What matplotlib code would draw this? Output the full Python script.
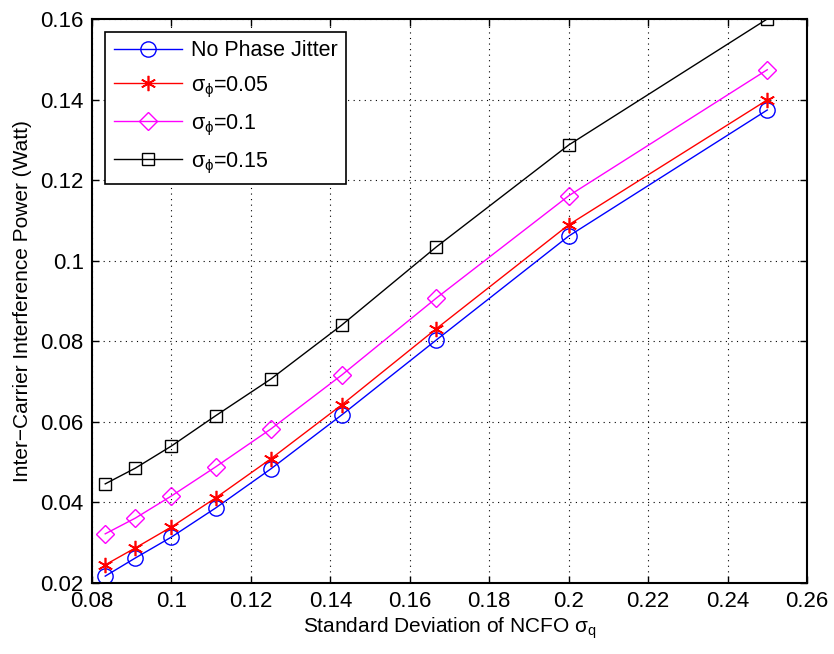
import matplotlib
matplotlib.use("Agg")
import matplotlib.pyplot as plt

plt.rcParams['font.family'] = ['Liberation Sans', 'DejaVu Sans']
plt.rcParams['mathtext.fontset'] = 'custom'
plt.rcParams['mathtext.rm'] = 'Liberation Sans'
plt.rcParams['mathtext.it'] = 'Liberation Sans'
plt.rcParams['mathtext.bf'] = 'Liberation Sans:bold'

x = [1/12, 1/11, 0.1, 1/9, 0.125, 1/7, 1/6, 0.2, 0.25]
no_jitter = [0.0217, 0.0262, 0.0314, 0.0386, 0.0483, 0.0617, 0.0803, 0.1061, 0.1374]
sig005 = [0.0245, 0.0287, 0.0339, 0.0411, 0.0508, 0.0642, 0.0831, 0.1089, 0.1399]
sig010 = [0.0322, 0.0361, 0.0416, 0.0488, 0.0582, 0.0716, 0.0907, 0.1161, 0.1474]
sig015 = [0.0446, 0.0485, 0.0540, 0.0615, 0.0706, 0.0840, 0.1034, 0.1287, 0.1600]

labels = ['No Phase Jitter', r'$\sigma_\phi$=0.05', r'$\sigma_\phi$=0.1', r'$\sigma_\phi$=0.15']
xticks = [0.08, 0.1, 0.12, 0.14, 0.16, 0.18, 0.2, 0.22, 0.24, 0.26]
yticks = [0.02, 0.04, 0.06, 0.08, 0.1, 0.12, 0.14, 0.16]

fig = plt.figure(figsize=(8.34, 6.54), dpi=100)
ax = fig.add_axes([0.1103, 0.1086, 0.8573, 0.8624])

ax.plot(x, no_jitter, color='blue', marker='o', markersize=11, markerfacecolor='none', lw=1, label=labels[0])
ax.plot(x, sig005, color='red', marker=(6, 2, 0), markersize=11, markeredgewidth=1.2, lw=1, label=labels[1])
ax.plot(x, sig010, color='magenta', marker='D', markersize=9, markerfacecolor='none', lw=1, label=labels[2])
ax.plot(x, sig015, color='black', marker='s', markersize=9, markerfacecolor='none', lw=1, label=labels[3])

ax.set_xlim(0.08, 0.26)
ax.set_ylim(0.02, 0.16)
ax.set_xticks(xticks)
ax.set_xticklabels([('%g' % t) for t in xticks])
ax.set_yticks(yticks)
ax.set_yticklabels([('%g' % t) for t in yticks])
ax.tick_params(direction='in', labelsize=16, length=5, width=1, top=True, right=True, pad=6)
ax.grid(True, linestyle=(0, (1, 4)), color='black', linewidth=0.8)
for s in ax.spines.values():
    s.set_linewidth(1.5)

ax.set_xlabel(r'Standard Deviation of NCFO $\sigma_q$', fontsize=15, labelpad=2)
ax.set_ylabel('Inter\u2212Carrier Interference Power (Watt)', fontsize=15, labelpad=6)

leg = ax.legend(loc='upper left', fontsize=15.5, fancybox=False, framealpha=1,
                edgecolor='black', borderaxespad=0.6, handlelength=3.2,
                labelspacing=0.6, borderpad=0.4, handletextpad=0.4)
leg.get_frame().set_linewidth(1.2)

fig.savefig('out.png', dpi=100)
